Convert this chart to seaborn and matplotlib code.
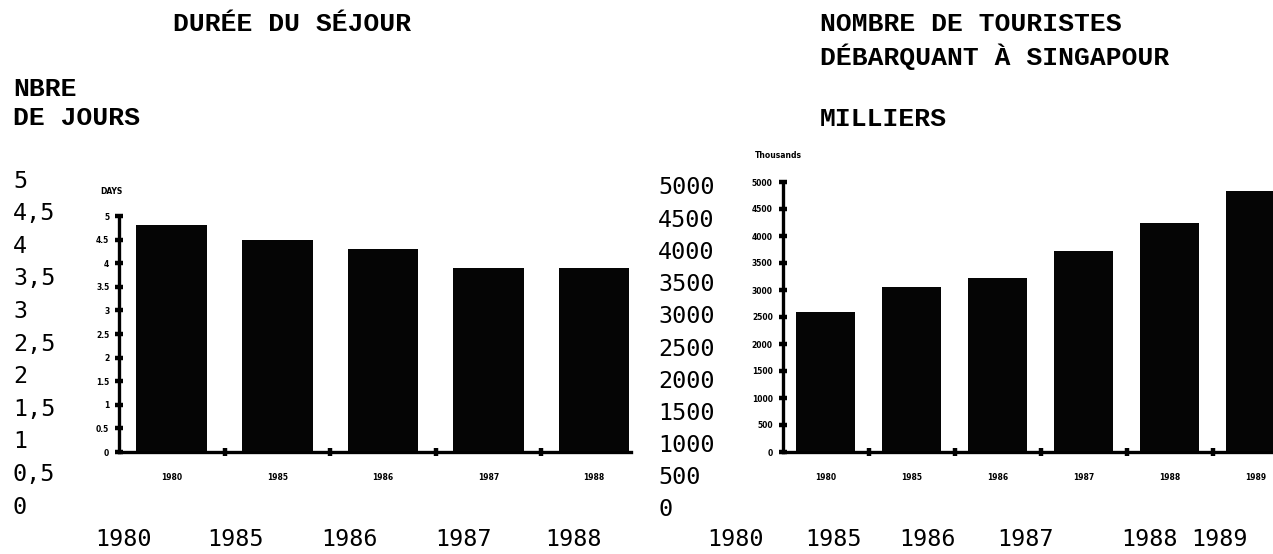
import numpy as np
import pandas as pd
import matplotlib
matplotlib.use("Agg")
import matplotlib.pyplot as plt
import seaborn as sns

# ---------------- data ----------------
years_days = ["1980", "1985", "1986", "1987", "1988"]
days = [4.8, 4.5, 4.3, 3.9, 3.9]

years_tourists = ["1980", "1985", "1986", "1987", "1988", "1989"]
tourists = [2600, 3050, 3220, 3720, 4250, 4840]

days_ticks = [0, 0.5, 1, 1.5, 2, 2.5, 3, 3.5, 4, 4.5, 5]
days_tick_labels = ["0", "0.5", "1", "1.5", "2", "2.5", "3", "3.5", "4", "4.5", "5"]
tour_ticks = [0, 500, 1000, 1500, 2000, 2500, 3000, 3500, 4000, 4500, 5000]
tour_tick_labels = ["0", "500", "1000", "1500", "2000", "2500", "3000", "3500", "4000", "4500", "5000"]

outer_days_labels = ["5", "4,5", "4", "3,5", "3", "2,5", "2", "1,5", "1", "0,5", "0"]
outer_tour_labels = ["5000", "4500", "4000", "3500", "3000", "2500", "2000", "1500", "1000", "500", "0"]
outer_years_left = ["1980", "1985", "1986", "1987", "1988"]
outer_years_right = ["1980", "1985", "1986", "1987", "1988", "1989"]

title_left = "DURÉE DU SÉJOUR"
ylab_left = ["NBRE", "DE JOURS"]
title_right = ["NOMBRE DE TOURISTES", "DÉBARQUANT À SINGAPOUR"]
ylab_right = "MILLIERS"

# ---------------- layout ----------------
sns.set_style("white")
plt.rcParams["font.family"] = ["DejaVu Sans"]
plt.rcParams["text.color"] = "black"
plt.rcParams["xtick.color"] = "black"
plt.rcParams["ytick.color"] = "black"

W, H = 1273, 554
fig = plt.figure(figsize=(W / 100, H / 100), dpi=100)
fig.patch.set_facecolor("white")


def fx(x):
    return x / W


def fy(y):
    return 1 - y / H


axL = fig.add_axes([fx(119), fy(452), (631 - 119) / W, (452 - 216) / H])
axR = fig.add_axes([fx(782.5), fy(452), (1273 - 782.5) / W, (452 - 182) / H])

dfL = pd.DataFrame({"year": years_days, "days": days})
dfR = pd.DataFrame({"year": years_tourists, "tourists": tourists})

sns.barplot(data=dfL, x="year", y="days", color="#050505", saturation=1,
            width=0.67, ax=axL, edgecolor="none")
sns.barplot(data=dfR, x="year", y="tourists", color="#050505", saturation=1,
            width=0.685, ax=axR, edgecolor="none")

axL.set_xlim(-0.5, 4.35)
axL.set_ylim(0, 5)
axR.set_xlim(-0.5, 5.2)
axR.set_ylim(0, 5000)


def style(ax, yt, ytl, xl):
    n = len(xl)
    ax.patch.set_alpha(0)
    for s in ["top", "right"]:
        ax.spines[s].set_visible(False)
    for s in ["left", "bottom"]:
        ax.spines[s].set_linewidth(2.4)
        ax.spines[s].set_color("black")
    ax.set_yticks(yt)
    ax.set_yticklabels(ytl, fontsize=5.5, fontweight="heavy")
    ax.tick_params(axis="y", left=True, direction="inout", length=6, width=3.2,
                   pad=4, colors="black")
    ax.set_xticks(range(n))
    ax.set_xticklabels(xl, fontsize=5.5, fontweight="heavy")
    ax.tick_params(axis="x", which="major", bottom=True, length=0, pad=15)
    ax.set_xticks([i + 0.5 for i in range(n - 1)], minor=True)
    ax.tick_params(axis="x", which="minor", bottom=True, direction="inout",
                   length=6, width=3.2, colors="black")
    ax.set_xlabel("")
    ax.set_ylabel("")


style(axL, days_ticks, days_tick_labels, years_days)
style(axR, tour_ticks, tour_tick_labels, years_tourists)

# ---------------- text ----------------
tfont = dict(family="Liberation Mono", weight="bold", size=19, va="center",
             ha="left", color="black")
nfont = dict(family="DejaVu Sans Mono", size=16.8, va="center", color="black")

fig.text(fx(173), fy(24), title_left, **tfont)
fig.text(fx(13), fy(89), ylab_left[0], **tfont)
fig.text(fx(13), fy(118), ylab_left[1], **tfont)
fig.text(fx(820), fy(24), title_right[0], **tfont)
fig.text(fx(820), fy(57), title_right[1], **tfont)
fig.text(fx(820), fy(119), ylab_right, **tfont)

fig.text(fx(100), fy(192), "DAYS", size=5.5, weight="heavy", va="center", color="black")
fig.text(fx(755), fy(155), "Thousands", size=5.5, weight="heavy", va="center", color="black")

for lab, y in zip(outer_days_labels, np.linspace(181, 507, len(outer_days_labels))):
    fig.text(fx(13), fy(y), lab, ha="left", **nfont)
for lab, y in zip(outer_tour_labels, np.linspace(188, 510, len(outer_tour_labels))):
    fig.text(fx(658), fy(y), lab, ha="left", **nfont)

left_year_x = [123, 236, 350, 464, 573]
right_year_x = [736, 834, 928, 1025, 1149, 1219]
for lab, x in zip(outer_years_left, left_year_x):
    fig.text(fx(x), fy(539), lab, ha="center", **nfont)
for lab, x in zip(outer_years_right, right_year_x):
    fig.text(fx(x), fy(539), lab, ha="center", **nfont)

fig.savefig("out.png", dpi=100)
